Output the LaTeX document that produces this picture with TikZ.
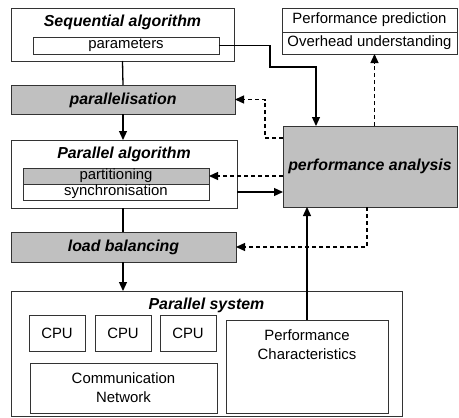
\documentclass[tikz,border=0pt]{standalone}
\usepackage{fontspec}
\setmainfont{Liberation Sans}
\usetikzlibrary{arrows.meta}
\definecolor{boxgray}{RGB}{192,192,192}

\tikzset{
  box/.style={draw=black!80, line width=0.8pt, fill=white, inner sep=0pt, outer sep=0pt,
    font=\fontsize{14.9}{19}\selectfont, align=center},
  shaded/.style={box, fill=boxgray},
  title/.style={inner sep=0pt, font=\fontsize{15.9}{19}\selectfont\bfseries\itshape},
  flow/.style={line width=1.3pt, -{Triangle[length=9pt,width=8pt]}},
  link/.style={line width=1.3pt},
  dflow/.style={flow, dash pattern=on 4pt off 3pt},
}

\begin{document}
\begin{tikzpicture}[x=1pt,y=-1pt]
  \useasboundingbox (0,0) rectangle (459,418);

  %%%%% left column %%%%%
  \node[box, minimum width=223, minimum height=53] (seq) at (122.5,34.5) {};
  \node[title] at (122.5,22) {Sequential algorithm};
  \node[box, minimum width=186, minimum height=17] (param) at (126,45.5) {parameters};

  \node[shaded, minimum width=224, minimum height=29] (par) at (123,99.5) {};
  \node[title] at (123,100) {parallelisation};

  \node[box, minimum width=226, minimum height=68] (palg) at (124,174) {};
  \node[title] at (124,154) {Parallel algorithm};
  \node[shaded, minimum width=186, minimum height=16] (part) at (116,176) {partitioning};
  \node[box, minimum width=186, minimum height=16] (sync) at (116,192) {synchronisation};

  \node[shaded, minimum width=225, minimum height=30] (lb) at (123.5,247) {};
  \node[title] at (123.5,247) {load balancing};

  %%%%% parallel system %%%%%
  \node[box, minimum width=391, minimum height=125] (psys) at (206.5,353.5) {};
  \node[title] at (206.5,305) {Parallel system};
  \node[box, minimum width=56, minimum height=36] (cpu1) at (57,333) {CPU};
  \node[box, minimum width=56, minimum height=36] (cpu2) at (123,333) {CPU};
  \node[box, minimum width=56, minimum height=36] (cpu3) at (188,333) {CPU};
  \node[box, minimum width=187, minimum height=50] (comm) at (123.5,388) {Communication\\Network};
  \node[box, minimum width=162, minimum height=93] (pchar) at (307,366.5) {};
  \node[inner sep=0pt, align=center, font=\fontsize{14.9}{19}\selectfont] at (307,344.5) {Performance\\Characteristics};

  %%%%% right column %%%%%
  \node[box, minimum width=175, minimum height=24] (pred) at (369.5,20) {Performance prediction};
  \node[box, minimum width=175, minimum height=22] (ovh) at (369.5,43) {Overhead understanding};
  \node[shaded, minimum width=174, minimum height=81] (pa) at (370,166.5) {};
  \node[title] at (370,166) {performance analysis};

  %%%%% connectors %%%%%
  \coordinate (j1) at (270,67);
  \coordinate (j2) at (316,67);
  \coordinate (j3) at (265,138);
  \coordinate (j4) at (367,247);

  \draw[link] (seq.south) -- (par.north);
  \draw[flow] (par.south) -- (par.south |- palg.north);
  \draw[link] (palg.south -| par.south) -- (lb.north -| par.south);
  \draw[flow] (lb.south -| par.south) -- (psys.north -| par.south);

  \draw[flow] (param.east) -| (j1) -- (j2) -- (j2 |- pa.north);
  \draw[dflow] ([xshift=4.5pt]pa.north) -- ([xshift=4.5pt]pa.north |- ovh.south);
  \draw[dflow] (pa.west |- j3) -- (j3) |- (par.east);
  \draw[dflow] (pa.west |- part.east) -- (part.east);
  \draw[flow] (palg.east |- sync.east) -- (pa.west |- sync.east);
  \draw[dflow] (pa.south -| j4) -- (j4) -- (lb.east);
  \draw[flow] (pchar.north) -- (pchar.north |- pa.south);
\end{tikzpicture}
\end{document}
